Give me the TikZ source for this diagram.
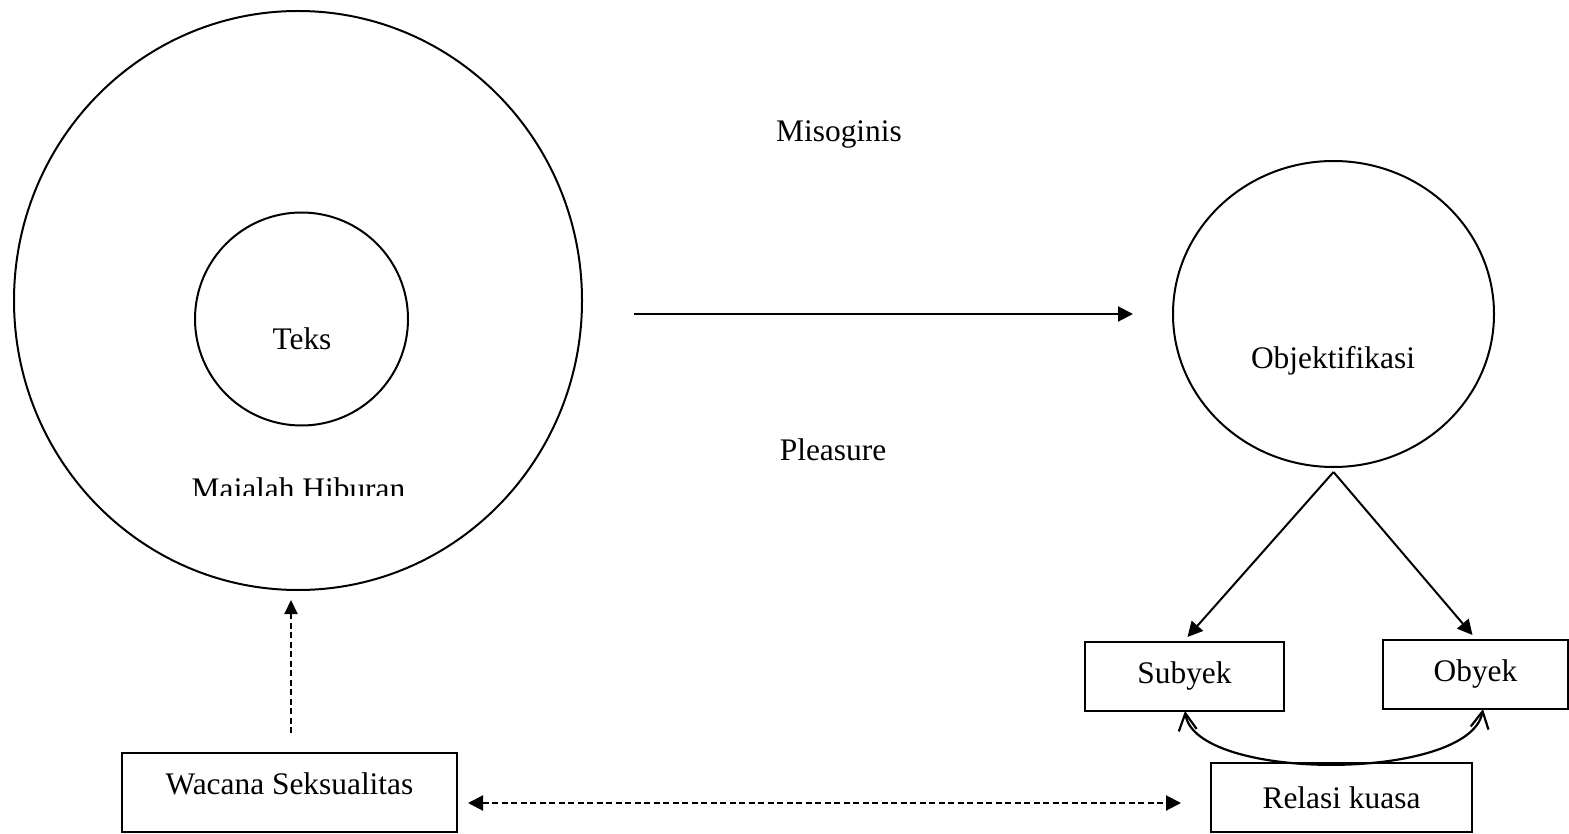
\documentclass[tikz,border=0pt]{standalone}
\usepackage{fontspec}
\setmainfont{Liberation Serif}
\usetikzlibrary{arrows.meta,shapes.geometric,calc}
\begin{document}
\begin{tikzpicture}[x=0.5pt,y=-0.5pt,
  every node/.style={font=\fontsize{15.7pt}{18pt}\selectfont, inner sep=0pt, outer sep=0pt},
  ring/.style={draw, line width=1pt, ellipse},
  boxnode/.style={draw, line width=1pt, rectangle, text height=0.7em, text depth=0.25em},
  lbl/.style={anchor=base},
  arr/.style={line width=1pt, -{Triangle[length=7.5pt,width=7.5pt]}},
  darr/.style={line width=1pt, dash pattern=on 3pt off 1.75pt, -{Triangle[length=7pt,width=6.5pt]}},
  ddarr/.style={line width=1pt, dash pattern=on 3pt off 1.75pt, {Triangle[length=7.5pt,width=7.5pt]}-{Triangle[length=7.5pt,width=7.5pt]}},
  barbs/.style={line width=1.1pt, {Straight Barb[length=8.5pt,width=9pt]}-{Straight Barb[length=8.5pt,width=9pt]}}
]
\useasboundingbox (0,0) rectangle (1569,834);

% left circles
\node[ring, minimum width=284pt, minimum height=289.5pt] (outer) at (298,300.5) {};
\node[draw, circle, line width=1pt, minimum size=106.5pt] (inner) at (301.5,319) {};
\node[lbl] (teks) at (302,350) {Teks};
\begin{scope}
  \clip (0,0) rectangle (1569,495);
  \node[lbl] (majalah) at (298.5,499) {Majalah Hiburan};
\end{scope}

% middle labels
\node[lbl] (misoginis) at (839,142) {Misoginis};
\node[lbl] (pleasure) at (833,460) {Pleasure};

% right circle
\node[ring, minimum width=160.5pt, minimum height=153pt] (obj) at (1333.5,314) {};
\node[lbl] (objtext) at (1333,368) {Objektifikasi};

% boxes
\node[boxnode, minimum width=99.5pt, minimum height=34.5pt] (subyek) at (1184.5,676.5) {\raisebox{-1pt}{Subyek}};
\node[boxnode, minimum width=92.5pt, minimum height=34.5pt] (obyek) at (1475.5,674.5) {\raisebox{-1pt}{Obyek}};
\node[boxnode, minimum width=130.5pt, minimum height=34.5pt] (relasi) at (1341.5,797.5) {\raisebox{-3pt}{Relasi kuasa}};
\node[boxnode, minimum width=167.5pt, minimum height=39.5pt] (wacana) at (289.5,792.5) {\raisebox{1.5pt}{Wacana Seksualitas}};

% connectors
\draw[arr] ($(outer.east |- obj.west)+(26pt,0)$) -- ($(obj.west)+(-20pt,0)$);
\coordinate (objb) at ($(obj.south)+(0,-2.5pt)$);
\draw[arr] (objb) -- ($(subyek.north)+(1.5pt,2.5pt)$);
\draw[arr] (objb) -- ($(obyek.north)+(-1.5pt,2.5pt)$);
\draw[barbs] ($(subyek.south)+(0.25pt,0)$) .. controls (1195,782) and (1470,782) .. ($(obyek.south)+(3.75pt,0)$);
\draw[darr] ($(wacana.north)+(0.75pt,10pt)$) -- ($(outer.south)+(-3.5pt,-5pt)$);
\draw[ddarr] ($(wacana.east)+(5.5pt,-5.25pt)$) -- ($(relasi.west)+(-15pt,-2.75pt)$);
\end{tikzpicture}
\end{document}
